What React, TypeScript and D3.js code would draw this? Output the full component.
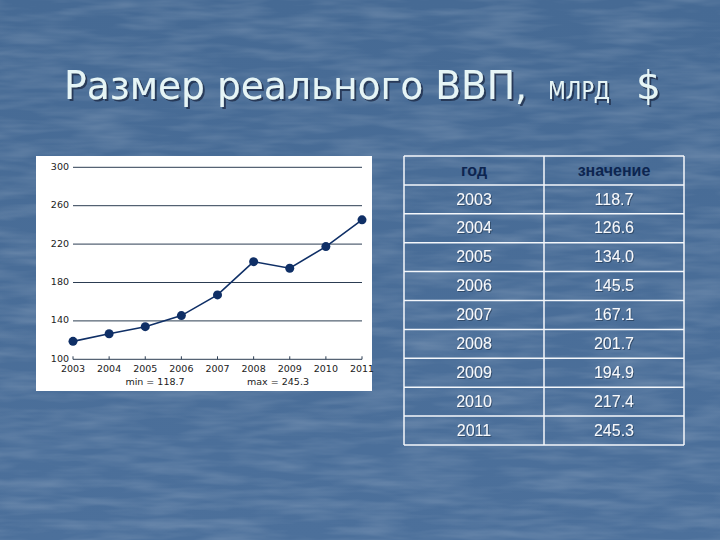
import * as d3 from 'd3'

// GDP data, bn $
const years = ['2003', '2004', '2005', '2006', '2007', '2008', '2009', '2010', '2011']
const values = [118.7, 126.6, 134.0, 145.5, 167.1, 201.7, 194.9, 217.4, 245.3]
const yTicks = [100, 140, 180, 220, 260, 300]
const tableHeader = ['год', 'значение']
const titleMain = 'Размер реального ВВП,'
const titleUnit = 'млрд'
const titleSign = '$'

const W = 720
const H = 540
const bg = '#4b6f99'
const navy = '#0f2f66'

function LineChart() {
  const box = { x: 36, y: 156, w: 336, h: 235 }
  const x = d3.scalePoint().domain(years).range([73, 362])
  const y = d3.scaleLinear().domain([100, 300]).range([359.3, 167.3])
  const line = d3
    .line<number>()
    .x((_, i) => x(years[i]) as number)
    .y((d) => y(d))

  const minV = d3.min(values) as number
  const maxV = d3.max(values) as number
  const font = { fontFamily: 'DejaVu Sans, sans-serif', fontSize: 9.5, fill: '#222' }

  return (
    <g>
      <rect x={box.x} y={box.y} width={box.w} height={box.h} fill="#fff" />
      {yTicks.map((t) => (
        <g key={t}>
          <line x1={x.range()[0]} x2={x.range()[1]} y1={y(t)} y2={y(t)} stroke="#2c3d52" strokeWidth={1} />
          <text x={69} y={y(t)} textAnchor="end" dominantBaseline="middle" {...font}>
            {t}
          </text>
        </g>
      ))}
      {years.map((yr) => (
        <g key={yr}>
          <line x1={x(yr)} x2={x(yr)} y1={y(100)} y2={y(100) - 3} stroke="#2c3d52" />
          <text x={x(yr)} y={369} textAnchor="middle" dominantBaseline="middle" {...font}>
            {yr}
          </text>
        </g>
      ))}
      <text x={155} y={382} textAnchor="middle" dominantBaseline="middle" {...font}>
        {`min = ${minV.toFixed(1)}`}
      </text>
      <text x={278} y={382} textAnchor="middle" dominantBaseline="middle" {...font}>
        {`max = ${maxV.toFixed(1)}`}
      </text>
      <path d={line(values) ?? ''} fill="none" stroke={navy} strokeWidth={1.6} />
      {values.map((v, i) => (
        <circle key={i} cx={x(years[i])} cy={y(v)} r={4.5} fill={navy} />
      ))}
    </g>
  )
}

function DataTable() {
  const left = 404
  const mid = 544
  const right = 684
  const top = 156
  const bottom = 445
  const rows = d3.scaleBand().domain(['head', ...years]).range([top, bottom])
  const colCenter = [(left + mid) / 2, (mid + right) / 2]
  const rowLines = [top, ...['head', ...years].map((r) => (rows(r) as number) + rows.bandwidth())]
  const txt = { fontFamily: 'Liberation Sans, Arial, sans-serif', fontSize: 16 }

  return (
    <g>
      {rowLines.map((ly, i) => (
        <line key={i} x1={left} x2={right} y1={ly} y2={ly} stroke="#f4f7fb" strokeWidth={1.5} />
      ))}
      {[left, mid, right].map((lx) => (
        <line key={lx} x1={lx} x2={lx} y1={top} y2={bottom} stroke="#f4f7fb" strokeWidth={1.5} />
      ))}
      {tableHeader.map((h, i) => (
        <text
          key={h}
          x={colCenter[i]}
          y={(rows('head') as number) + rows.bandwidth() / 2 + 1}
          textAnchor="middle"
          dominantBaseline="middle"
          fill="#0d2550"
          fontWeight="bold"
          {...txt}
        >
          {h}
        </text>
      ))}
      {years.map((yr, r) =>
        [yr, values[r].toFixed(1)].map((s, c) => (
          <text
            key={yr + c}
            x={colCenter[c]}
            y={(rows(yr) as number) + rows.bandwidth() / 2 + 1}
            textAnchor="middle"
            dominantBaseline="middle"
            fill="#f7f9fc"
            filter="url(#cellShadow)"
            {...txt}
          >
            {s}
          </text>
        ))
      )}
    </g>
  )
}

function Title() {
  const f = 'DejaVu Sans, Verdana, sans-serif'
  return (
    <g fill="#e6f5f6" fontFamily={f} filter="url(#titleShadow)">
      <text x={64} y={99} fontSize={39} textLength={463} lengthAdjust="spacingAndGlyphs">
        {titleMain}
      </text>
      <text x={548} y={99} fontSize={35} fontVariant="small-caps" textLength={62} lengthAdjust="spacingAndGlyphs">
        {titleUnit}
      </text>
      <text x={636} y={99} fontSize={39}>
        {titleSign}
      </text>
    </g>
  )
}

export default function App() {
  return (
    <div style={{ position: 'absolute', left: 0, top: 0 }}>
      <svg width={W} height={H} style={{ display: 'block' }}>
        <defs>
          <filter id="grain" x="0" y="0" width="100%" height="100%">
            <feTurbulence type="fractalNoise" baseFrequency="0.015 0.1" numOctaves={3} seed={4} />
            <feColorMatrix type="matrix" values="0 0 0 0 1  0 0 0 0 1  0 0 0 0 1  0 0 0 0.28 -0.1" />
          </filter>
          <filter id="titleShadow" x="-5%" y="-20%" width="110%" height="150%">
            <feDropShadow dx={2} dy={2} stdDeviation={0.6} floodColor="#1a2a45" floodOpacity={0.75} />
          </filter>
          <filter id="cellShadow" x="-10%" y="-20%" width="130%" height="150%">
            <feDropShadow dx={1} dy={1} stdDeviation={0.4} floodColor="#20324d" floodOpacity={0.6} />
          </filter>
          <linearGradient id="bgGrad" x1="0" y1="0" x2="0" y2="1">
            <stop offset="0" stopColor="#466a94" />
            <stop offset="1" stopColor="#4c709b" />
          </linearGradient>
        </defs>
        <rect width={W} height={H} fill={bg} />
        <rect width={W} height={H} fill="url(#bgGrad)" />
        <rect width={W} height={H} filter="url(#grain)" />
        <Title />
        <LineChart />
        <DataTable />
      </svg>
    </div>
  )
}
